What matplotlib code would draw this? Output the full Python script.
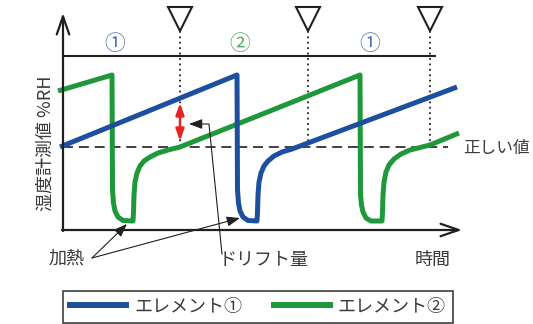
import matplotlib.pyplot as plt
from matplotlib.lines import Line2D

plt.rcParams['font.family'] = ['Noto Sans CJK JP', 'DejaVu Sans']

# 模式図なので値は画像上の位置で持つ (x: 時間 右向き, y: 測定値 下向き)
blue_x = [60, 237, 237.5, 238.5, 240, 243, 248, 257, 257.5, 258, 259, 261, 264,
          268, 274, 282, 292, 300, 457]
blue_y = [147, 75, 190, 203, 211, 217, 220.5, 221, 212, 195, 182, 173, 166,
          161, 156, 152, 149, 146, 87]

green_x = [58, 112, 112.5, 113.5, 115, 118, 123, 133, 133.5, 134, 135, 137, 140,
           144, 150, 158, 168, 180, 360, 360.5, 361.5, 363, 366, 371, 382, 382.5,
           383, 384, 386, 389, 394, 401, 410, 420, 430, 459]
green_y = [91, 75, 190, 203, 211, 217, 220.5, 221, 212, 195, 182, 173, 166,
           161, 157, 153, 150, 147, 75, 195, 205, 212, 218, 221, 221, 212,
           195, 182, 172, 165, 159, 154, 150, 147.5, 145, 133]

true_value = 147
marker_times = [180, 308, 430]
phase_labels = ['①', '②', '①']
phase_times = [115, 240, 370]
drift_top = 103
drift_bottom = 141
legend_labels = ['エレメント①', 'エレメント②']

BLUE = '#1d4f9f'
GREEN = '#1f983b'
INK = '#231f20'
TEXT = '#3a3a3a'

fig = plt.figure(figsize=(5.33, 3.24), dpi=100)
ax = fig.add_axes([0, 0, 1, 1])
ax.set_xlim(0, 533)
ax.set_ylim(324, 0)
ax.axis('off')

# 軸
ax.annotate('', xy=(63, 13), xytext=(63, 231),
            arrowprops=dict(arrowstyle='->,head_length=1.3,head_width=0.45',
                            lw=1.6, color=INK, shrinkA=0, shrinkB=0))
ax.annotate('', xy=(462, 230), xytext=(62, 230),
            arrowprops=dict(arrowstyle='->,head_length=1.3,head_width=0.45',
                            lw=1.6, color=INK, shrinkA=0, shrinkB=0))
ax.plot([63, 435], [56, 56], color=INK, lw=1.5)

# 正しい値
ax.plot([63, 448], [true_value, true_value], color=INK, lw=1.2,
        dashes=(6, 3.5))
ax.text(463, true_value + 2, '正しい値', fontsize=12, color=TEXT,
        ha='left', va='center')

# 校正タイミング
for t in marker_times:
    ax.plot([t, t], [31, true_value - 2], color=INK, lw=1.3, ls=(0, (1, 2)))
    ax.plot([t], [19], marker='v', ms=17, mfc='white', mec=INK, mew=1.5)

label_colors = [BLUE, GREEN, BLUE]
for t, lab, c in zip(phase_times, phase_labels, label_colors):
    ax.text(t, 44, lab, fontsize=15, color=c, ha='center', va='center',
            alpha=0.8)

# 曲線
ax.plot(green_x, green_y, color=GREEN, lw=3.6, solid_joinstyle='round',
        solid_capstyle='butt')
ax.plot(blue_x, blue_y, color=BLUE, lw=3.6, solid_joinstyle='round',
        solid_capstyle='butt')

# ドリフト量
ax.annotate('', xy=(marker_times[0], drift_top), xytext=(marker_times[0], drift_bottom),
            arrowprops=dict(arrowstyle='<|-|>,head_length=0.7,head_width=0.25',
                            lw=1.8, color='#e52521', shrinkA=0, shrinkB=0))
ax.plot([222, 209, 198], [254, 124, 124], color=INK, lw=0.8)
ax.annotate('', xy=(189, 124), xytext=(200, 124),
            arrowprops=dict(arrowstyle='-|>,head_length=0.8,head_width=0.3',
                            lw=0.8, color=INK, shrinkA=0, shrinkB=0))
ax.text(264, 260, 'ドリフト量', fontsize=13, color=TEXT, ha='center', va='center')

# 加熱
for tip in [(127, 224), (240, 218)]:
    ax.annotate('', xy=tip, xytext=(92, 258),
                arrowprops=dict(arrowstyle='-|>,head_length=0.8,head_width=0.3',
                                lw=0.8, color=INK, shrinkA=0, shrinkB=0))
ax.text(67, 259, '加熱', fontsize=13, color=TEXT, ha='center', va='center')

ax.text(433, 260, '時間', fontsize=13, color=TEXT, ha='center', va='center')
ax.text(46, 143, '湿度計測値 %RH', fontsize=13, color=TEXT, ha='center',
        va='center', rotation=90)

# 凡例
handles = [Line2D([], [], color=BLUE, lw=4.3), Line2D([], [], color=GREEN, lw=4.3)]
leg = ax.legend(handles, legend_labels, loc='lower left', ncol=2,
                bbox_to_anchor=(63 / 533, 1 / 324, 390 / 533, 38 / 324),
                mode='expand', borderaxespad=0, fontsize=13, handlelength=3.1,
                handletextpad=0.45, columnspacing=1.6, borderpad=0.4,
                fancybox=False, framealpha=1, edgecolor='#4d4d4d',
                labelcolor=TEXT)
leg.get_frame().set_linewidth(1.3)

fig.savefig('out.png', dpi=100)
